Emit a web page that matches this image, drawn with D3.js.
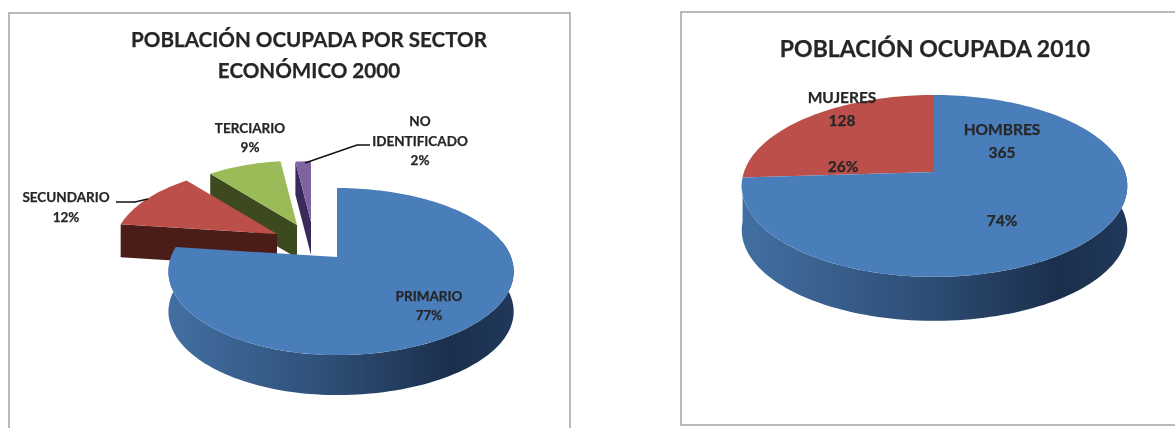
<!DOCTYPE html>
<html>
<head>
<meta charset="utf-8">
<script src="https://d3js.org/d3.v7.min.js"></script>
<style>
    html, body { margin: 0; background: #fff; }
    svg { display: block; filter: blur(0.4px); }
    text { font-family: Lato, "Open Sans", sans-serif; font-weight: 700; fill: #262626; stroke: #262626; stroke-width: 0.25; text-anchor: middle; }
</style>
</head>
<body>
<svg id="chart" width="1175" height="428"></svg>
<script>
// Data
const SECTOR_NAMES = ["PRIMARIO", "SECUNDARIO", "TERCIARIO", "NO IDENTIFICADO"];
const SECTOR_VALUES = [77, 12, 9, 2];
const GENDER_NAMES = ["HOMBRES", "MUJERES"];
const GENDER_VALUES = [365, 128];
const GENDER_PERCENT = ["74%", "26%"];

const TOP_COLORS = ["#4a7ebb", "#bd4f4b", "#9bbb59", "#8064a2"];
const WALL_COLORS = [null, "#4a1d18", "#3d4a20", "#3a2a5c"];

const CHART_SECTOR = {
    values: SECTOR_VALUES,
    apex: [337, 257],
    rxLeft: 166,
    rxRight: 174,
    ry: 81,
    tilt: 0.174,
    depth: 40,
    gradient: "wall-sector",
    wallRange: [168, 514],
    // exploded slices have their own apex and a slightly smaller radius
    slices: [
        { apex: [337, 257], scale: 1 },
        { apex: [277, 234], scale: 0.97, depth: 33, exploded: true },
        { apex: [297, 225], scale: 0.93, depth: 33, exploded: true },
        { apex: [311, 222], scale: 0.88, depth: 33, exploded: true },
    ],
};

const CHART_GENDER = {
    values: GENDER_VALUES,
    apex: [934, 172],
    rxLeft: 190,
    rxRight: 191,
    ry: 88.8,
    tilt: 0.153,
    depth: 44,
    gradient: "wall-gender",
    wallRange: [741, 1128],
    slices: [
        { apex: [934, 172], scale: 1 },
        { apex: [934, 172], scale: 1 },
    ],
};

const svg = d3.select("#chart");
const defs = svg.append("defs");
const line = d3.line();

function wallGradient(id, range) {
    const g = defs
        .append("linearGradient")
        .attr("id", id)
        .attr("gradientUnits", "userSpaceOnUse")
        .attr("x1", range[0])
        .attr("x2", range[1])
        .attr("y1", 0)
        .attr("y2", 0);
    g.append("stop").attr("offset", 0).attr("stop-color", "#426fa3");
    g.append("stop").attr("offset", 0.45).attr("stop-color", "#2f5078");
    g.append("stop").attr("offset", 0.82).attr("stop-color", "#1b2f4c");
    g.append("stop").attr("offset", 1).attr("stop-color", "#20385a");
}

// Flat circle to screen: the near side of the pie is drawn bigger than the far side
function project(chart, apex, scale, angle) {
    const u = Math.sin(angle);
    const v = -Math.cos(angle);
    const rx = u < 0 ? chart.rxLeft : chart.rxRight;
    const w = 1 - chart.tilt * v;
    return [apex[0] + (scale * rx * u) / w, apex[1] + (scale * chart.ry * v) / w];
}

function rim(chart, apex, scale, a0, a1) {
    const n = Math.max(2, Math.ceil((a1 - a0) / 0.03));
    return d3.range(n + 1).map((i) => project(chart, apex, scale, a0 + ((a1 - a0) * i) / n));
}

function drawPie(chart) {
    const arcs = d3.pie().sort(null)(chart.values);
    wallGradient(chart.gradient, chart.wallRange);
    const g = svg.append("g");

    // Back slices first, so the big one sits in front of them
    arcs.slice().reverse().forEach((d) => {
        const s = chart.slices[d.index];
        const depth = s.depth || chart.depth;

        if (s.exploded) {
            // Cut face along the start edge of an exploded slice
            const p = project(chart, s.apex, s.scale, d.startAngle);
            const face = [p, s.apex, [s.apex[0], s.apex[1] + depth], [p[0], p[1] + depth]];
            g.append("path")
                .attr("d", line(face) + "Z")
                .attr("fill", WALL_COLORS[d.index]);
        }

        if (d.index === 0) {
            // Outer wall along the front of the big slice
            const a0 = Math.min((78 * Math.PI) / 180, d.endAngle);
            const upper = rim(chart, s.apex, s.scale, a0, d.endAngle);
            const lower = upper.map((q) => [q[0], q[1] + depth]).reverse();
            g.append("path")
                .attr("d", line(upper.concat(lower)) + "Z")
                .attr("fill", `url(#${chart.gradient})`);
        }

        const top = rim(chart, s.apex, s.scale, d.startAngle, d.endAngle);
        g.append("path")
            .attr("d", line([s.apex].concat(top)) + "Z")
            .attr("fill", TOP_COLORS[d.index]);
    });
}

function frame(points) {
    svg.append("path")
        .attr("d", line(points))
        .attr("fill", "none")
        .attr("stroke", "#a3a3a3")
        .attr("stroke-width", 1.5);
}

function label(x, y, size, str) {
    svg.append("text").attr("x", x).attr("y", y).attr("font-size", size).text(str);
}

function leader(points) {
    svg.append("path")
        .attr("d", line(points))
        .attr("fill", "none")
        .attr("stroke", "#111")
        .attr("stroke-width", 1.5);
}

frame([[9, 428], [9, 13], [570, 13], [570, 428]]);
frame([[1175, 12], [681, 12], [681, 425], [1175, 425]]);

drawPie(CHART_SECTOR);
drawPie(CHART_GENDER);

// Left chart text
label(309, 47, 20.6, "POBLACIÓN OCUPADA POR SECTOR");
label(309, 78, 20.6, "ECONÓMICO 2000");
label(429, 301, 13.5, SECTOR_NAMES[0]);
label(429, 320, 13.5, SECTOR_VALUES[0] + "%");
label(66, 202, 13.5, SECTOR_NAMES[1]);
label(66, 222, 13.5, SECTOR_VALUES[1] + "%");
label(250, 133, 13.5, SECTOR_NAMES[2]);
label(250, 152, 13.5, SECTOR_VALUES[2] + "%");
label(420, 126, 13.5, "NO");
label(420, 146, 13.5, "IDENTIFICADO");
label(420, 165, 13.5, SECTOR_VALUES[3] + "%");
leader([[116, 202], [135, 202], [148, 199]]);
leader([[370, 145], [357, 145], [305, 163]]);

// Right chart text
label(935, 57, 23, "POBLACIÓN OCUPADA 2010");
label(1002, 135, 15.5, GENDER_NAMES[0]);
label(1002, 158, 15.5, GENDER_VALUES[0]);
label(1002, 226, 15.5, GENDER_PERCENT[0]);
label(842, 103, 15.5, GENDER_NAMES[1]);
label(842, 126, 15.5, GENDER_VALUES[1]);
label(843, 172, 15.5, GENDER_PERCENT[1]);
</script>
</body>
</html>
